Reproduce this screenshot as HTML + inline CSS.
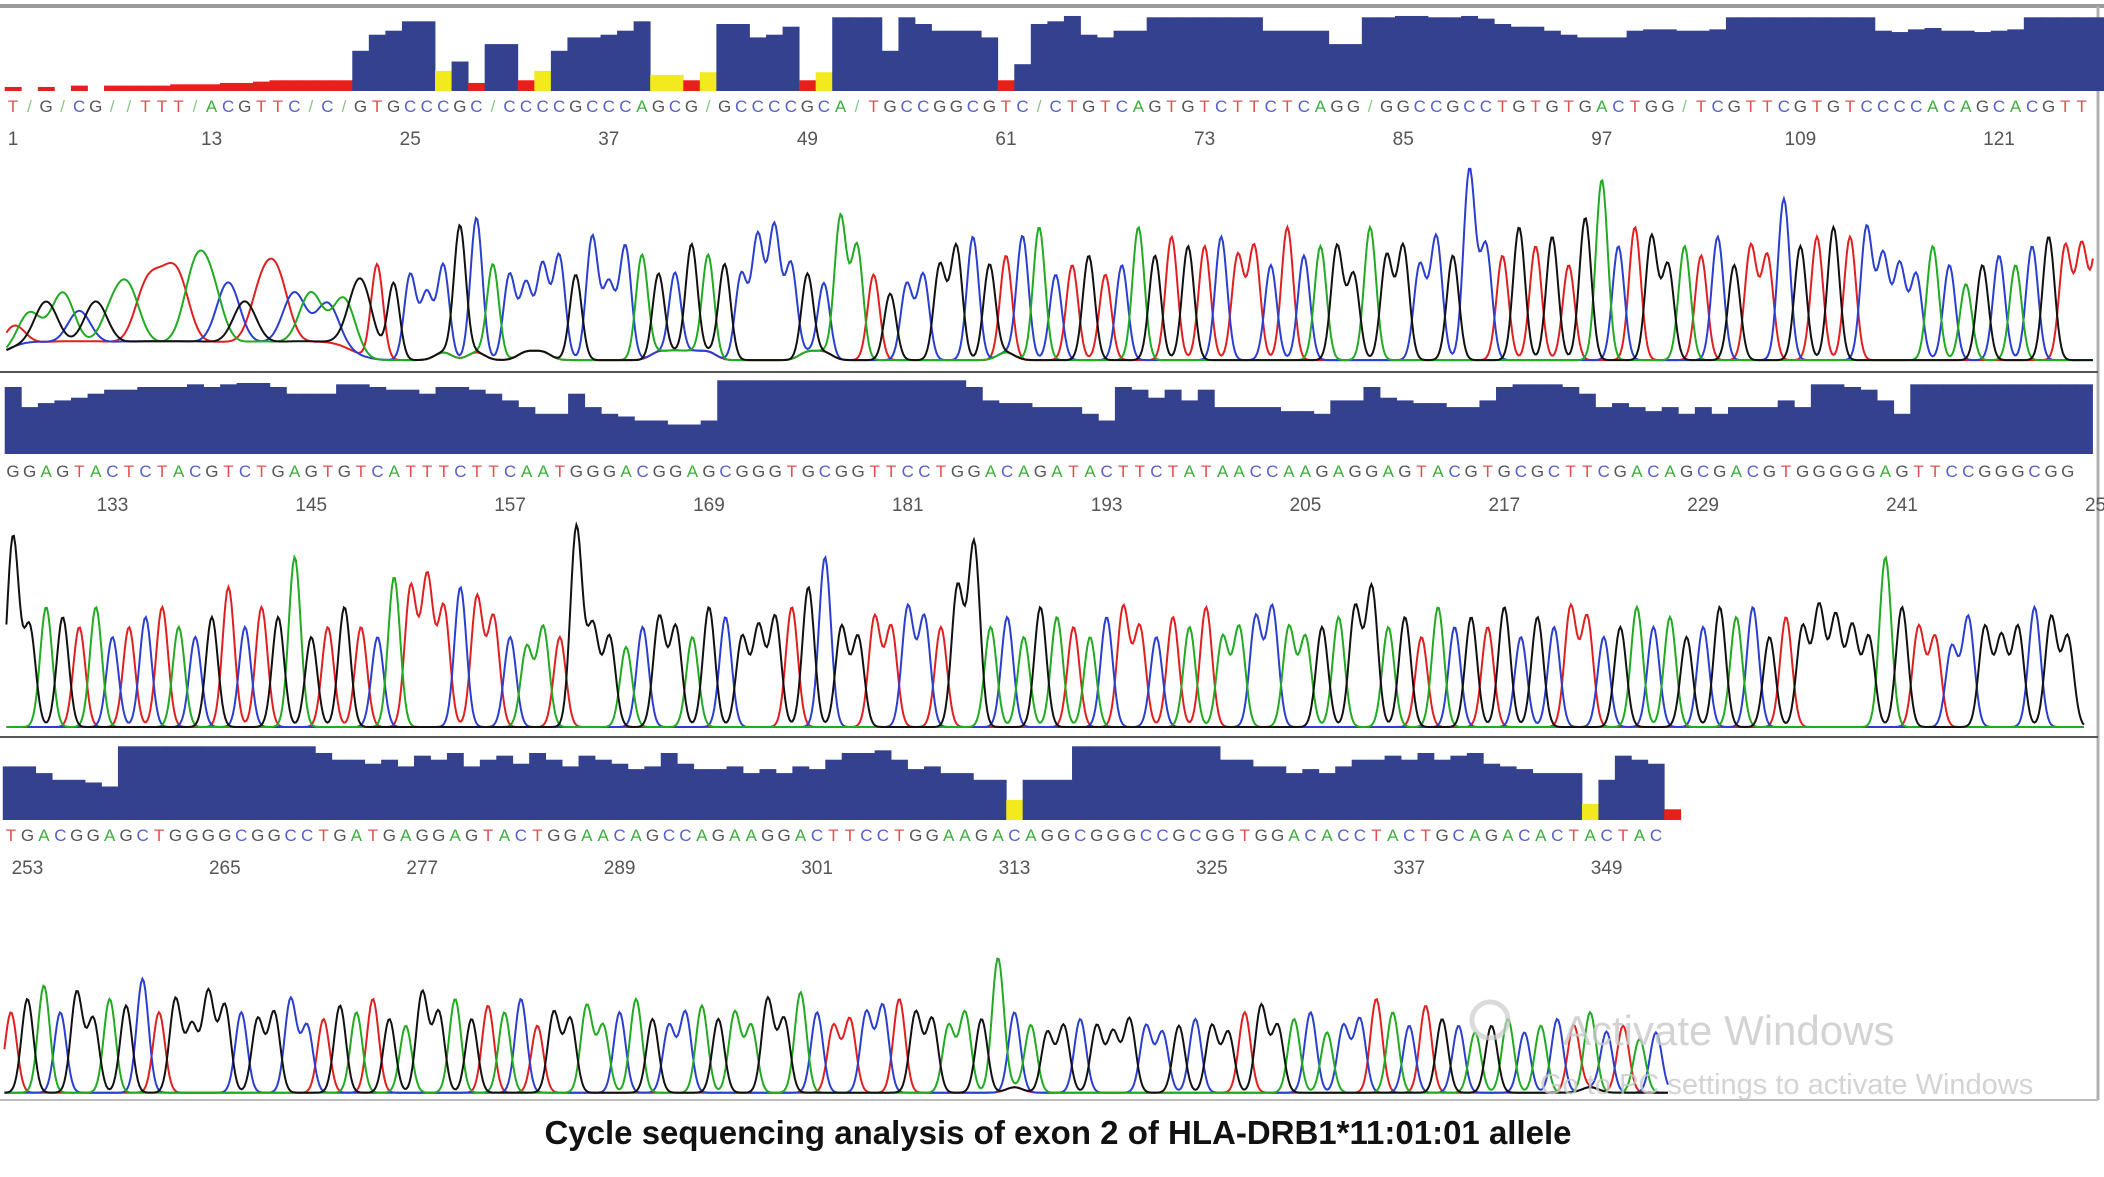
<!DOCTYPE html>
<html><head><meta charset="utf-8"><style>
html,body{margin:0;padding:0;background:#fff;}
svg{display:block;}
</style></head><body>
<svg id="chart" width="2104" height="1177" viewBox="0 0 2104 1177" xmlns="http://www.w3.org/2000/svg">
<rect x="0" y="0" width="2104" height="1177" fill="#fff"/>
<line x1="0" y1="6" x2="2104" y2="6" stroke="#9a9a9a" stroke-width="4"/>
<line x1="2098" y1="6" x2="2098" y2="1100" stroke="#b0b0b0" stroke-width="3"/>
<line x1="0" y1="372" x2="2098" y2="372" stroke="#555" stroke-width="2"/>
<line x1="0" y1="737" x2="2098" y2="737" stroke="#555" stroke-width="2"/>
<line x1="0" y1="1100" x2="2098" y2="1100" stroke="#bbb" stroke-width="2"/>
<g id="rows"></g>
<text x="1563" y="1045" font-family="Liberation Sans, sans-serif" font-size="42" fill="#c8c8c8" fill-opacity="0.8">Activate Windows</text>
<text x="1540" y="1094" font-family="Liberation Sans, sans-serif" font-size="29" fill="#c8c8c8" fill-opacity="0.8">Go to PC settings to activate Windows</text>
<circle cx="1490" cy="1020" r="18" fill="none" stroke="#ccc" stroke-width="5" opacity="0.7"/>
<text x="1058" y="1144" text-anchor="middle" font-family="Liberation Sans, sans-serif" font-weight="bold" font-size="33" fill="#111">Cycle sequencing analysis of exon 2 of HLA-DRB1*11:01:01 allele</text>
</svg>
<script>
// ---- data ----
const row1Bases = "TNGNCGNNTTTNACGTTCNCNGTGCCCGCNCCCCGCCCAGCGNGCCCCGCANTGCCGGCGTCNCTGTCAGTGTCTTCTCAGGNGGCCGCCTGTGTGACTGGNTCGTTCGTGTCCCCACAGCACGTTTCTTCT";
const row2Bases = "GGAGTACTCTACGTCTGAGTGTCATTTCTTCAATGGGACGGAGCGGGTGCGGTTCCTGGACAGATACTTCTATAACCAAGAGGAGTACGTGCGCTTCGACAGCGACGTGGGGGAGTTCCGGGCGG";
const row3Bases = "TGACGGAGCTGGGGCGGCCTGATGAGGAGTACTGGAACAGCCAGAAGGACTTCCTGGAAGACAGGCGGGCCGCGGTGGACACCTACTGCAGACACTACTAC";
const row1Quality = [3,0,3,0,4,0,4,4,4,4,5,5,5,6,6,7,8,8,8,8,8,30,42,45,52,52,15,22,6,35,35,8,15,30,40,40,42,45,52,12,12,8,14,50,50,40,42,48,8,14,55,55,55,30,55,50,45,45,45,40,8,20,50,52,56,42,40,45,45,55,55,55,55,55,55,55,45,45,45,45,35,35,55,55,56,56,55,55,56,54,50,48,48,45,42,40,40,40,45,46,46,45,45,46,55,55,55,55,55,55,55,55,55,45,44,46,47,45,45,44,45,46,55,55,55,55,55];
const row2Quality = [50,35,38,40,42,45,48,48,50,50,50,52,50,52,53,53,50,45,45,45,52,52,50,48,48,45,50,50,48,45,40,35,30,30,45,35,30,28,25,25,22,22,25,55,55,55,55,55,55,55,55,55,55,55,55,55,55,55,50,40,38,38,35,35,35,30,25,50,48,42,48,40,48,35,35,35,35,32,32,30,40,40,50,42,40,38,38,35,35,40,50,52,52,52,50,45,35,38,35,32,35,30,35,30,35,35,35,40,35,52,52,50,48,40,30,52,52,52,52,52,52,52,52,52,52,52];
const row3Quality = [40,40,35,30,30,28,25,55,55,55,55,55,55,55,55,55,55,55,55,50,45,45,42,45,40,48,45,50,40,45,48,42,50,45,40,48,45,42,38,40,50,42,38,38,40,35,38,35,40,38,45,50,50,52,45,38,40,35,35,30,30,15,30,30,30,55,55,55,55,55,55,55,55,55,45,45,40,40,35,38,35,40,45,45,48,45,50,45,48,50,42,40,38,35,35,35,12,30,48,45,42,8];
const row1Heights = [.15,.2,.25,.3,.2,.25,.2,.3,.3,.25,.35,.4,.3,.35,.25,.3,.35,.3,.3,.25,.3,.4,.5,.4,.45,.35,.5,.7,.75,.5,.45,.4,.5,.55,.45,.65,.4,.6,.55,.45,.45,.6,.55,.5,.45,.65,.7,.5,.45,.4,.75,.6,.45,.35,.4,.45,.5,.6,.65,.5,.55,.65,.7,.45,.5,.55,.45,.5,.7,.55,.65,.6,.6,.65,.55,.6,.5,.7,.55,.6,.6,.45,.7,.55,.6,.5,.65,.55,1,.6,.55,.7,.6,.65,.5,.75,.95,.6,.7,.65,.5,.6,.55,.65,.5,.6,.55,.85,.6,.65,.7,.65,.7,.55,.5,.45,.6,.5,.4,.5,.55,.5,.6,.65,.6,.6,.65,.6,.55,.6];
const row2Heights = [.95,.5,.6,.55,.5,.6,.45,.5,.55,.6,.5,.45,.55,.7,.5,.6,.55,.85,.45,.5,.6,.5,.45,.75,.7,.75,.6,.7,.65,.55,.45,.4,.5,.45,1,.5,.45,.4,.5,.55,.5,.45,.6,.55,.45,.5,.55,.6,.7,.85,.5,.45,.55,.5,.6,.55,.5,.7,.92,.5,.55,.45,.6,.55,.5,.45,.55,.6,.5,.45,.55,.5,.6,.45,.5,.55,.6,.5,.45,.5,.55,.6,.7,.5,.55,.45,.6,.5,.55,.5,.6,.45,.55,.5,.6,.55,.45,.5,.6,.5,.55,.45,.5,.6,.55,.6,.45,.55,.5,.6,.55,.5,.45,.85,.6,.5,.45,.4,.55,.5,.45,.5,.6,.55,.45,.5];
const row3Heights = [.6,.7,.8,.6,.75,.55,.7,.65,.85,.6,.7,.5,.75,.65,.6,.55,.6,.7,.5,.55,.65,.6,.7,.55,.5,.75,.6,.7,.55,.65,.6,.7,.5,.6,.55,.65,.5,.6,.7,.55,.5,.6,.65,.55,.6,.5,.7,.55,.75,.6,.5,.55,.6,.65,.7,.6,.55,.5,.6,.55,1,.6,.5,.45,.5,.55,.5,.45,.55,.5,.45,.5,.55,.5,.45,.6,.65,.5,.55,.6,.45,.5,.55,.7,.6,.5,.65,.55,.5,.45,.5,.55,.45,.5,.55,.5,.6,.45,.5,.4,.45,.5];
const row1Ticks = [1,13,25,37,49,61,73,85,97,109,121];
const row2Ticks = [133,145,157,169,181,193,205,217,229,241,253];
const row3Ticks = [253,265,277,289,301,313,325,337,349];

const rowsCfg = [
 {name:"row-1", bases:row1Bases, q:row1Quality, h:row1Heights, ticks:row1Ticks, start:1, x0:13, dx:16.55, barBase:91, seqY:112, numY:145, chromBase:362, amp:190, xEnd:2094, broad:true},
 {name:"row-2", bases:row2Bases, q:row2Quality, h:row2Heights, ticks:row2Ticks, start:127, x0:13, dx:16.57, barBase:454, seqY:477, numY:511, chromBase:729, amp:200, xEnd:2094},
 {name:"row-3", bases:row3Bases, q:row3Quality, h:row3Heights, ticks:row3Ticks, start:252, x0:11, dx:16.45, barBase:820, seqY:841, numY:874, chromBase:1094, amp:134, xEnd:1668}
];
const NS="http://www.w3.org/2000/svg";
const colorOf = {A:"#22aa22",C:"#2b3fcf",G:"#111111",T:"#e02020",N:"#22aa22"};
const txtColor = {A:"#3cae3c",C:"#5560c8",G:"#555",T:"#e05050",N:"#88c888"};
const root=document.getElementById('rows');
function mk(tag,attrs,parent){const e=document.createElementNS(NS,tag);for(const k in attrs)e.setAttribute(k,attrs[k]);parent.appendChild(e);return e;}

rowsCfg.forEach(r=>{
  const g=mk('g',{},root);
  
  
  const X=i=>r.x0+i*r.dx;
  const QY=q=>r.barBase-q*1.34;
  r.q.forEach((q,i)=>{
    if(q<=0) return;
    const col = q<10?"#e8201c":(q<20?"#f2ea1e":"#34418f");
    const b=mk('rect',{x:X(i)-r.dx/2,y:QY(q),width:r.dx+0.4,height:r.barBase-QY(q),fill:col},g);
    
    
  });
  for(let i=0;i<r.bases.length;i++){
    const ch=r.bases[i];
    if(X(i)>2090) break;
    const t=mk('text',{x:X(i),y:r.seqY,'text-anchor':'middle','font-family':'Liberation Sans, sans-serif','font-size':17,fill:txtColor[ch]||'#555'},g);
    t.textContent = ch==='N' ? '/' : ch;
    
    
  }
  r.ticks.forEach(n=>{
    const t=mk('text',{x:X(n-r.start),y:r.numY,'text-anchor':'middle','font-family':'Liberation Sans, sans-serif','font-size':19,fill:'#555'},g);
    t.textContent=n;
    
    
  });
  const n=r.bases.length;
  const xMax=Math.min(r.xEnd, X(n-1)+r.dx);
  ['T','C','A','G'].forEach(b=>{
    let d='';
    for(let x=r.x0-r.dx*0.4;x<=xMax;x+=1.5){
      let y=0.01;
      const ci=(x-r.x0)/r.dx;
      for(let i=Math.max(0,Math.floor(ci)-4);i<=Math.min(n-1,Math.ceil(ci)+4);i++){
        let bb=r.bases[i]; if(bb==='N') bb='A';
        const wide = r.broad && i<22;
        const sig = r.dx*(wide ? 0.7 : 0.36);
        const dxp=x-X(i);
        if(bb===b) y+=r.h[i]*Math.exp(-dxp*dxp/(2*sig*sig));
        else if(r.q[i]<20) y+=0.04*Math.exp(-dxp*dxp/(2*sig*sig*2));
      }
      d+=(d?'L':'M')+x.toFixed(1)+','+(r.chromBase-y*r.amp).toFixed(1);
    }
    const p=mk('path',{d:d,fill:'none',stroke:colorOf[b],'stroke-width':2},g);
    
    
  });
});
</script>
</body></html>
